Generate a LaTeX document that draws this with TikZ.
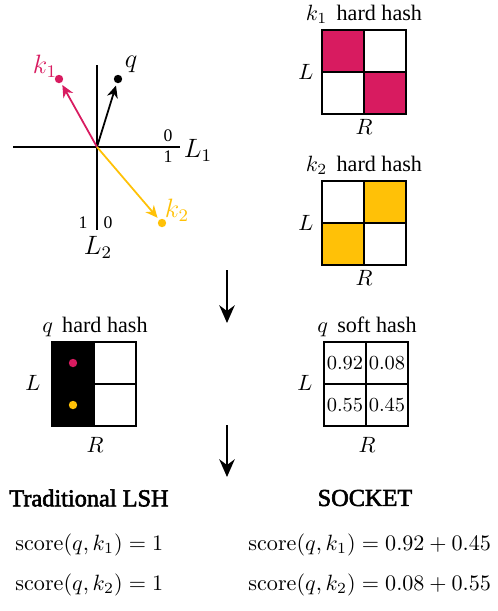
\documentclass[tikz,border=0pt]{standalone}
\usepackage[no-math]{fontspec}
\setmainfont{Liberation Serif}
\newfontfamily\headfont{Liberation Serif}[FakeBold=2.4]
\usepackage{amsmath}
\usepackage{xcolor}
\usepackage{tikz}
\usetikzlibrary{arrows.meta}

\definecolor{keyred}{HTML}{D81B60}
\definecolor{keyyellow}{HTML}{FFC107}

\begin{document}
\begin{tikzpicture}[x=0.452pt, y=-0.452pt,
	vec/.style={thick, -{Stealth[length=5.5pt,width=5pt]}, shorten >=1pt},
	dotnode/.style={circle, fill, inner sep=0pt, minimum size=3.8pt},
	tick/.style={font=\footnotesize, inner sep=0pt},
	cell/.style={line width=0.5pt},
	head/.style={font=\fontsize{11}{13}\headfont},
	flow/.style={thick, -{Stealth[length=8pt,width=7pt]}}]
	\useasboundingbox (0,0) rectangle (498,611);

	% vectors in the plane
	\coordinate (O) at (97,147);
	\draw[thick] (13,147) -- (180,147);
	\draw[thick] (97,65) -- (97,230);
	\node[dotnode] (q) at (118,79) {};
	\node[dotnode, keyred] (k1) at (59,79) {};
	\node[dotnode, keyyellow] (k2) at (162,223) {};
	\draw[vec] (O) -- (q);
	\draw[vec, keyred] (O) -- (k1);
	\draw[vec, keyyellow] (O) -- (k2);
	\node[font=\large] (qlab) at (131,64) {$q$};
	\node[keyred, font=\large] (k1lab) at (45,66) {$k_1$};
	\node[keyyellow, font=\large] (k2lab) at (177,210) {$k_2$};
	\node[tick] (h0) at (168,136) {0};
	\node[tick] (h1) at (168,157) {1};
	\node[font=\large] (L1lab) at (198,150) {$L_1$};
	\node[tick] (v1) at (83,223) {1};
	\node[tick] (v0) at (108,223) {0};
	\node[font=\large] (L2lab) at (98,247) {$L_2$};

	% k1 hard hash
	\node (k1title) at (364,14) {$k_1$\, hard hash};
	\fill[keyred] (322,30) rectangle (364,72);
	\fill[keyred] (364,72) rectangle (406,114);
	\draw[cell] (322,30) rectangle (406,114);
	\draw[cell] (364,30) -- (364,114);
	\draw[cell] (322,72) -- (406,72);
	\node (k1L) at (306,72) {$L$};
	\node (k1R) at (364,127) {$R$};

	% k2 hard hash
	\node (k2title) at (364,165) {$k_2$\, hard hash};
	\fill[keyyellow] (364,181) rectangle (406,223);
	\fill[keyyellow] (322,223) rectangle (364,265);
	\draw[cell] (322,181) rectangle (406,265);
	\draw[cell] (364,181) -- (364,265);
	\draw[cell] (322,223) -- (406,223);
	\node (k2L) at (306,223) {$L$};
	\node (k2R) at (364,278) {$R$};

	% q hard hash
	\node (qhtitle) at (95,327) {$q$\, hard hash};
	\fill[black] (52,342) rectangle (94,426);
	\draw[cell] (52,342) rectangle (136,426);
	\draw[cell] (94,342) -- (94,426);
	\draw[cell] (94,384) -- (136,384);
	\node[dotnode, keyred] (qk1) at (73,363) {};
	\node[dotnode, keyyellow] (qk2) at (73,405) {};
	\node (qhL) at (33,383) {$L$};
	\node (qhR) at (95,445) {$R$};

	% q soft hash
	\node (qstitle) at (367,327) {$q$\, soft hash};
	\draw[cell] (324,342) rectangle (408,426);
	\draw[cell] (366,342) -- (366,426);
	\draw[cell] (324,384) -- (408,384);
	\node[font=\small] (s11) at (345,363) {$0.92$};
	\node[font=\small] (s12) at (387,363) {$0.08$};
	\node[font=\small] (s21) at (345,405) {$0.55$};
	\node[font=\small] (s22) at (387,405) {$0.45$};
	\node (qsL) at (305,383) {$L$};
	\node (qsR) at (367,445) {$R$};

	% steps
	\coordinate (a1) at (227,270);
	\coordinate (b1) at (227,323);
	\coordinate (a2) at (227,425);
	\coordinate (b2) at (227,477);
	\draw[flow] (a1) -- (b1);
	\draw[flow] (a2) -- (b2);

	% scores
	\node[head] (lsh) at (89,498) {Traditional LSH};
	\node[head] (socket) at (365,498) {SOCKET};
	\node[anchor=west, inner sep=0pt] (lsh1) at (15,545) {$\mathrm{score}(q,k_1) = 1$};
	\node[anchor=west, inner sep=0pt] (lsh2) at (15,585) {$\mathrm{score}(q,k_2) = 1$};
	\node[anchor=west, inner sep=0pt] (soc1) at (248,545) {$\mathrm{score}(q,k_1) = 0.92 + 0.45$};
	\node[anchor=west, inner sep=0pt] (soc2) at (248,585) {$\mathrm{score}(q,k_2) = 0.08 + 0.55$};
\end{tikzpicture}
\end{document}
